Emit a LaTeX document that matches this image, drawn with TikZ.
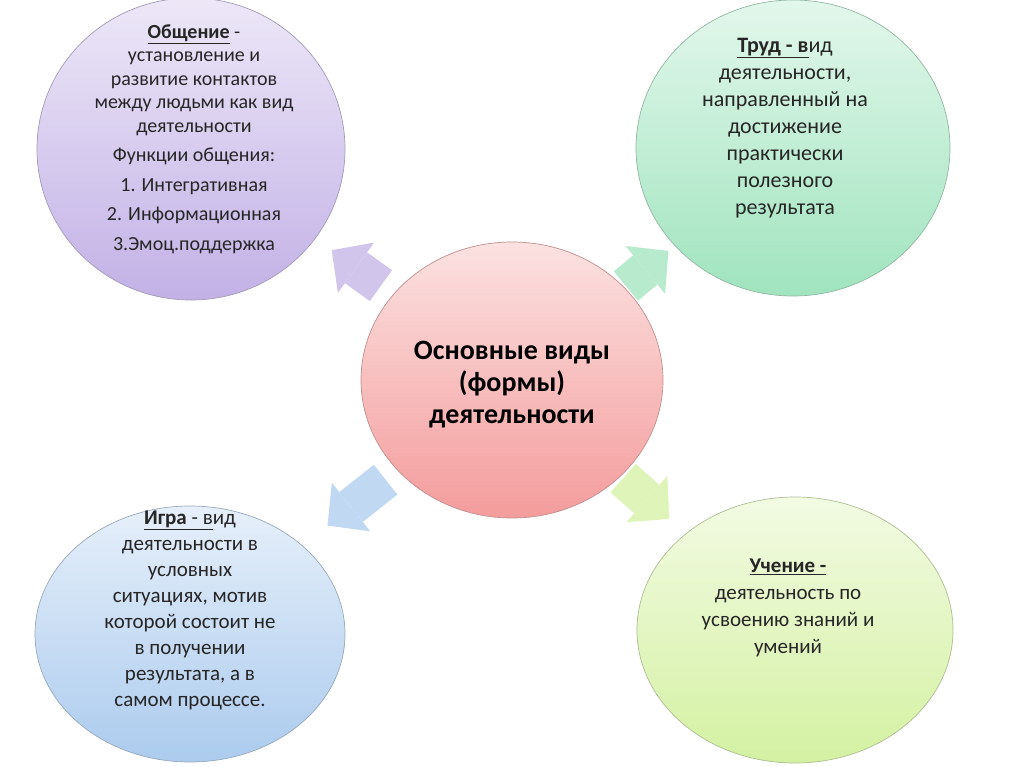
\documentclass[tikz,border=0pt]{standalone}
\usepackage{fontspec}
\setmainfont{Carlito}
\usetikzlibrary{shapes.geometric, arrows.meta, calc}
\definecolor{TextGray}{RGB}{38, 38, 38}
\definecolor{CommPurple}{RGB}{194, 177, 230}
\definecolor{WorkGreen}{RGB}{160, 228, 190}
\definecolor{CorePink}{RGB}{244, 156, 156}
\definecolor{PlayBlue}{RGB}{172, 203, 238}
\definecolor{StudyLime}{RGB}{212, 241, 162}

\begin{document}
\begin{tikzpicture}[
    x=1pt, y=-1pt,
    every node/.style={align=center, text=TextGray},
    bubble/.style={ellipse, inner sep=0pt, line width=0.7pt, draw=#1!55!gray, top color=#1!30, bottom color=#1, shading angle=0},
    blockarr/.style={draw=#1!75, line width=38pt, -{Triangle[length=30pt, width=62pt, line width=0pt]}}
  ]
    \useasboundingbox (0,0) rectangle (1024,767);

    % Circles
    \node[bubble=CorePink, minimum width=302pt, minimum height=276pt] (core) at (512,380) {};
    \node[bubble=CommPurple, minimum width=308pt, minimum height=302pt] (comm) at (191,149) {};
    \node[bubble=WorkGreen, minimum width=314pt, minimum height=296pt] (work) at (793,148) {};
    \node[bubble=PlayBlue, minimum width=310pt, minimum height=256pt] (play) at (190,634) {};
    \node[bubble=StudyLime, minimum width=316pt, minimum height=266pt] (study) at (795,630) {};

    % Texts
    \node[font=\fontsize{28}{32}\selectfont\bfseries, text=black] (coretext) at ($(core)+(0,5)$) {Основные виды\\(формы)\\деятельности};
    \node[font=\fontsize{20}{23.5}\selectfont] (commtext) at ($(comm)+(3,-10)$)
      {\underline{\textbf{Общение}} -\\установление и\\развитие контактов\\между людьми как вид\\деятельности\\[6pt]
       Функции общения:\\[6pt]1. Интегративная\\[6pt]2. Информационная\\[6pt]3.Эмоц.поддержка};
    \node[font=\fontsize{22}{27}\selectfont] (worktext) at ($(work)+(-8,-20)$)
      {\underline{\textbf{Труд - в}}ид\\деятельности,\\направленный на\\достижение\\практически\\полезного\\результата};
    \node[font=\fontsize{21}{26}\selectfont] (playtext) at ($(play)+(0,-24)$)
      {\underline{\textbf{Игра} - в}ид\\деятельности в\\условных\\ситуациях, мотив\\которой состоит не\\в получении\\результата, а в\\самом процессе.};
    \node[font=\fontsize{21}{27}\selectfont] (studytext) at ($(study)+(-7,-22)$)
      {\underline{\textbf{Учение -}}\\деятельность по\\усвоению знаний и\\умений};

    % Connections
    \draw[blockarr=CommPurple, shorten <=15pt, shorten >=20pt] (core) -- (comm);
    \draw[blockarr=WorkGreen, shorten <=2pt, shorten >=8pt] (core) -- (work);
    \draw[blockarr=PlayBlue, shorten <=15pt, shorten >=32pt] (core) -- (play);
    \draw[blockarr=StudyLime, shorten <=3pt, shorten >=22pt] (core) -- (study);
\end{tikzpicture}
\end{document}
